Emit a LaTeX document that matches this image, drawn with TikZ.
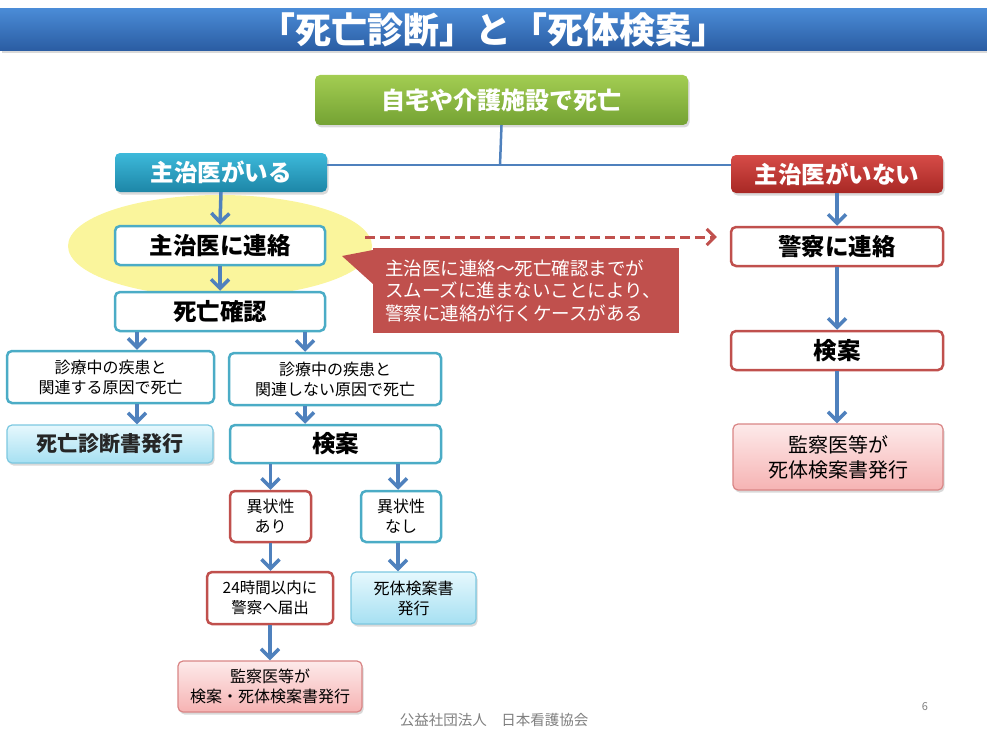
\documentclass[tikz,border=0pt]{standalone}
\usepackage{fontspec}
\setmainfont{Noto Sans CJK JP}
\usetikzlibrary{arrows.meta,shadows,shapes.geometric,calc}
\definecolor{arrowblue}{HTML}{4F81BD}
\definecolor{tealb}{HTML}{4BACC6}
\definecolor{redb}{HTML}{C0504D}
\definecolor{ylw}{HTML}{FAF59C}
\definecolor{titletop}{HTML}{4A8BD6}
\definecolor{titlebot}{HTML}{2A5CA2}
\definecolor{greentop}{HTML}{A3CD52}
\definecolor{greenbot}{HTML}{74A233}
\definecolor{tealtop}{HTML}{3DB9DA}
\definecolor{tealbot}{HTML}{1D86A7}
\definecolor{redtop}{HTML}{D64C48}
\definecolor{redbot}{HTML}{A82824}
\definecolor{lbtop}{HTML}{E6F8FD}
\definecolor{lbbot}{HTML}{A6E0F2}
\definecolor{lbline}{HTML}{7CC8E0}
\definecolor{pktop}{HTML}{FDEAEA}
\definecolor{pkbot}{HTML}{F6B3B3}
\definecolor{pkline}{HTML}{D98585}
\definecolor{footgray}{HTML}{7F7F7F}
\newcommand\setfs[2]{\fontsize{#1}{#2}\selectfont}
\tikzset{
  arr/.style={draw=arrowblue, line width=3.5pt, -{Straight Barb[length=9pt,width=18pt]}},
  link/.style={draw=arrowblue, line width=2.5pt},
  softshadow/.style={drop shadow={opacity=0.3, shadow xshift=1.5pt, shadow yshift=-2.5pt}},
  hdr/.style={rounded corners=5pt, inner sep=0pt, text=white, align=center,
              font=\bfseries\setfs{23.5}{27}, softshadow},
  tealbox/.style={rounded corners=5pt, inner sep=0pt, draw=tealb, line width=2.5pt,
              fill=white, align=center},
  redbox/.style={rounded corners=5pt, inner sep=0pt, draw=redb, line width=2.5pt,
              fill=white, align=center},
  bluebox/.style={rounded corners=5pt, inner sep=0pt, draw=lbline, line width=1.2pt,
              top color=lbtop, bottom color=lbbot, align=center, softshadow},
  pinkbox/.style={rounded corners=5pt, inner sep=0pt, draw=pkline, line width=1.2pt,
              top color=pktop, bottom color=pkbot, align=center, softshadow},
  big/.style={font=\bfseries\setfs{23.5}{27}},
  small/.style={font=\setfs{16}{20}},
}
\begin{document}
\begin{tikzpicture}[x=1pt,y=-1pt]
\useasboundingbox (0,0) rectangle (987,741);

% title bar
\node[minimum width=987pt, minimum height=42pt, inner sep=0pt,
      top color=titletop, bottom color=titlebot, text=white,
      font=\bfseries\setfs{36}{40}, softshadow] (title) at (493.5,30) {「死亡診断」と「死体検案」};

% top box
\node[hdr, minimum width=373pt, minimum height=50pt, top color=greentop, bottom color=greenbot,
      font=\bfseries\setfs{24}{28}] (home) at (501.5,100) {自宅や介護施設で死亡};

% branch headers
\node[hdr, minimum width=212pt, minimum height=39pt, top color=tealtop, bottom color=tealbot]
      (yes) at (221,172.5) {主治医がいる};
\node[hdr, minimum width=212pt, minimum height=38pt, top color=redtop, bottom color=redbot]
      (no) at (837,174) {主治医がいない};

\coordinate (junction) at (500,165);
\draw[link] (home.south) -- (junction);
\draw[link] (junction -| yes.east) -- (junction -| no.west);

% yellow glow
\node[ellipse, fill=ylw, minimum width=304pt, minimum height=102pt, inner sep=0pt] (glow) at (220,246) {};

% left column
\node[tealbox, big, minimum width=210pt, minimum height=39pt] (call) at (220,245.5) {主治医に連絡};
\node[tealbox, big, minimum width=210pt, minimum height=39pt] (confirm) at (220,311.5) {死亡確認};
\node[tealbox, small, minimum width=207pt, minimum height=52pt] (rel) at (110.5,377)
      {診療中の疾患と\\関連する原因で死亡};
\node[tealbox, small, minimum width=212pt, minimum height=52pt] (unrel) at (335,379)
      {診療中の疾患と\\関連しない原因で死亡};
\node[bluebox, minimum width=206pt, minimum height=38pt, text=black!85,
      font=\bfseries\setfs{21}{25}] (certif) at (110,444) {死亡診断書発行};
\node[tealbox, big, minimum width=211pt, minimum height=38pt] (exam) at (335.5,444) {検案};
\node[redbox, small, minimum width=81pt, minimum height=51pt] (abn) at (270.5,516.5) {異状性\\あり};
\node[tealbox, small, minimum width=80pt, minimum height=51pt] (norm) at (401,516.5) {異状性\\なし};
\node[redbox, font=\setfs{15.5}{20}, minimum width=126pt, minimum height=52pt] (report) at (270,598)
      {24時間以内に\\警察へ届出};
\node[bluebox, small, minimum width=125pt, minimum height=52pt] (corpse) at (413.5,598)
      {死体検案書\\発行};
\node[pinkbox, small, minimum width=184pt, minimum height=51pt] (medex) at (270,686.5)
      {監察医等が\\検案・死体検案書発行};

% right column
\node[redbox, big, minimum width=212pt, minimum height=39pt] (police) at (837,246.5) {警察に連絡};
\node[redbox, big, minimum width=212pt, minimum height=39pt] (exam2) at (837,350.5) {検案};
\node[pinkbox, font=\setfs{20}{25}, minimum width=210pt, minimum height=66pt] (medex2) at (838,457)
      {監察医等が\\死体検案書発行};

% callout
\node[anchor=north west, fill=redb, text=white, minimum width=306pt, minimum height=85pt,
      text width=282pt, inner xsep=12pt, inner ysep=0pt, align=left,
      font=\setfs{18.5}{22.5}] (note) at (373,248)
      {主治医に連絡～死亡確認までが\\スムーズに進まないことにより、\\警察に連絡が行くケースがある};
\coordinate (notetip) at (342,256);
\fill[redb] ([yshift=-2pt]note.north west) -- (notetip) -- ([yshift=-36pt]note.north west) -- cycle;

% dashed arrow
\coordinate (dashstart) at (365,237);
\draw[draw=redb, line width=3pt, dash pattern=on 10pt off 5pt,
      -{Straight Barb[length=8pt,width=16pt]}, shorten >=13pt]
      (dashstart) -- (dashstart -| police.west);

% arrows
\coordinate (xl) at (137,0);
\coordinate (xm) at (305,0);
\coordinate (xr) at (398,0);
\draw[arr] (yes.south) -- (call.north);
\draw[arr] (call.south) -- (confirm.north);
\draw[arr] (confirm.south -| xl) -- (rel.north -| xl);
\draw[arr] (confirm.south -| xm) -- (unrel.north -| xm);
\draw[arr] (rel.south -| xl) -- (certif.north -| xl);
\draw[arr] (unrel.south -| xm) -- (exam.north -| xm);
\draw[arr] (exam.south -| abn.north) -- (abn.north);
\draw[arr] (exam.south -| xr) -- (norm.north -| xr);
\draw[arr] (abn.south) -- (report.north -| abn.south);
\draw[arr] (norm.south -| xr) -- (corpse.north -| xr);
\draw[arr] (report.south) -- (medex.north);
\draw[arr] (no.south) -- (police.north);
\draw[arr] (police.south) -- (exam2.north);
\draw[arr] (exam2.south) -- (exam2.south |- medex2.north);

% footer
\node[text=footgray, font=\setfs{14.5}{17}, inner sep=0pt] (org) at (494,720) {公益社団法人　日本看護協会};
\node[text=footgray, font=\setfs{11}{13}, inner sep=0pt] (page) at (925,707) {6};
\end{tikzpicture}
\end{document}
